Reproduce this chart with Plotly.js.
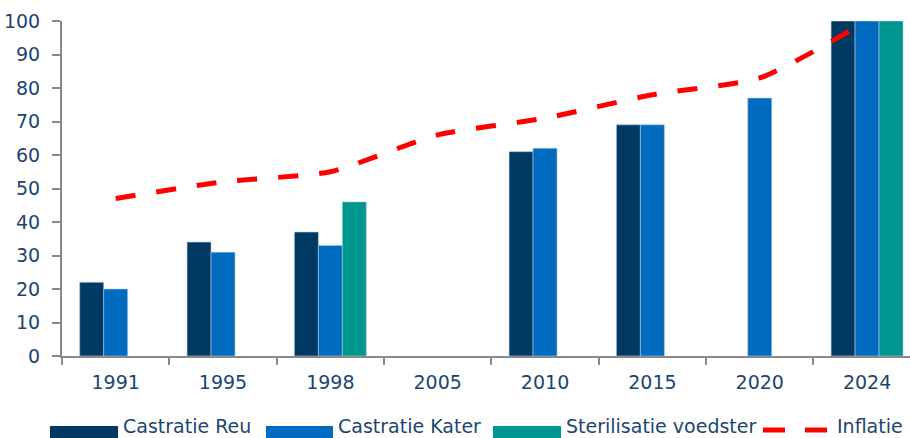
<!DOCTYPE html>
<html>
<head>
<meta charset="utf-8">
<script src="https://cdn.plot.ly/plotly-3.0.1.min.js"></script>
<style>html,body{margin:0;padding:0;background:#fff;}#chart{width:910px;height:438px;}</style>
</head>
<body>
<div id="chart"></div>
<script>
// ---- data ----
const categories = ['1991','1995','1998','2005','2010','2015','2020','2024'];
const castratieReu = [22, 34, 37, null, 61, 69, null, 100];
const castratieKater = [20, 31, 33, null, 62, 69, 77, 100];
const sterilisatieVoedster = [null, null, 46, null, null, null, null, 100];
const inflatie = [47, 52, 55, 66, 71, 78, 83, 100];
const seriesNames = ['Castratie Reu', 'Castratie Kater', 'Sterilisatie voedster', 'Inflatie'];
const yTicks = [0,10,20,30,40,50,60,70,80,90,100];

// ---- styles ----
const colReu = '#003A63', colKater = '#006BBF', colSter = '#009690', colInfl = '#FF0000';
const textCol = '#1B4570';
const fontFam = 'DejaVu Sans, Liberation Sans, Arial, sans-serif';
const edge = {color: 'rgba(170,200,230,0.6)', width: 1};

const traces = [
  {type:'bar', name:seriesNames[0], x:categories, y:castratieReu, marker:{color:colReu, line:edge}, showlegend:false},
  {type:'bar', name:seriesNames[1], x:categories, y:castratieKater, marker:{color:colKater, line:edge}, showlegend:false},
  {type:'bar', name:seriesNames[2], x:categories, y:sterilisatieVoedster, marker:{color:colSter, line:edge}, showlegend:false},
  {type:'scatter', mode:'lines', name:seriesNames[3], x:categories, y:inflatie, cliponaxis:false,
   line:{color:colInfl, width:5, dash:'20px,21px', shape:'spline', smoothing:0.6}, showlegend:false}
];

// plot area geometry (px) for the hand-drawn legend
const W = 910, H = 438, mL = 62, mR = 0, mT = 21, mB = 82;
const pw = W - mL - mR, ph = H - mT - mB;
const px = v => (v - mL) / pw;
const py = v => (H - mB - v) / ph;

const legendY = 430;
const legendTextY = 426;
const swatches = [
  {x0:50, x1:118, col:colReu, tx:122, label:seriesNames[0]},
  {x0:266, x1:333, col:colKater, tx:337, label:seriesNames[1]},
  {x0:493, x1:561, col:colSter, tx:565, label:seriesNames[2]}
];
const shapes = swatches.map(s => ({type:'rect', xref:'paper', yref:'paper',
  x0:px(s.x0), x1:px(s.x1), y0:py(441), y1:py(426), fillcolor:s.col, line:{width:0}}));
shapes.push({type:'line', xref:'paper', yref:'paper', x0:px(763), x1:px(829), y0:py(legendY), y1:py(legendY),
  line:{color:colInfl, width:5, dash:'22px,20px'}});
const annotations = swatches.map(s => ({xref:'paper', yref:'paper', x:px(s.tx), y:py(legendTextY),
  xanchor:'left', yanchor:'middle', text:s.label, showarrow:false, borderpad:0,
  font:{family:fontFam, size:19, color:textCol}}));
annotations.push({xref:'paper', yref:'paper', x:px(836), y:py(legendTextY), xanchor:'left', yanchor:'middle',
  text:seriesNames[3], showarrow:false, borderpad:0, font:{family:fontFam, size:19, color:textCol}});

const layout = {
  width: W, height: H,
  margin: {l:mL, r:mR, t:mT, b:mB, pad:0},
  paper_bgcolor:'#ffffff', plot_bgcolor:'#ffffff',
  barmode:'group', bargap:0.33, bargroupgap:0,
  showlegend:false,
  font:{family:fontFam, size:19, color:textCol},
  xaxis:{type:'category', range:[-0.5, 7.4], showgrid:false, zeroline:false,
    showline:true, linecolor:'#898989', linewidth:2,
    ticks:'outside', tickson:'boundaries', ticklen:7, tickwidth:2, tickcolor:'#898989',
    ticklabelstandoff:8, tickfont:{family:fontFam, size:19, color:textCol}, fixedrange:true},
  yaxis:{range:[0,100], tickvals:yTicks, showgrid:false, zeroline:false,
    showline:true, linecolor:'#898989', linewidth:2,
    ticks:'outside', ticklen:8, tickwidth:2, tickcolor:'#898989',
    ticklabelstandoff:8, tickfont:{family:fontFam, size:19, color:textCol}, fixedrange:true},
  shapes: shapes,
  annotations: annotations
};

Plotly.newPlot('chart', traces, layout, {displayModeBar:false, staticPlot:true});
</script>
</body>
</html>
